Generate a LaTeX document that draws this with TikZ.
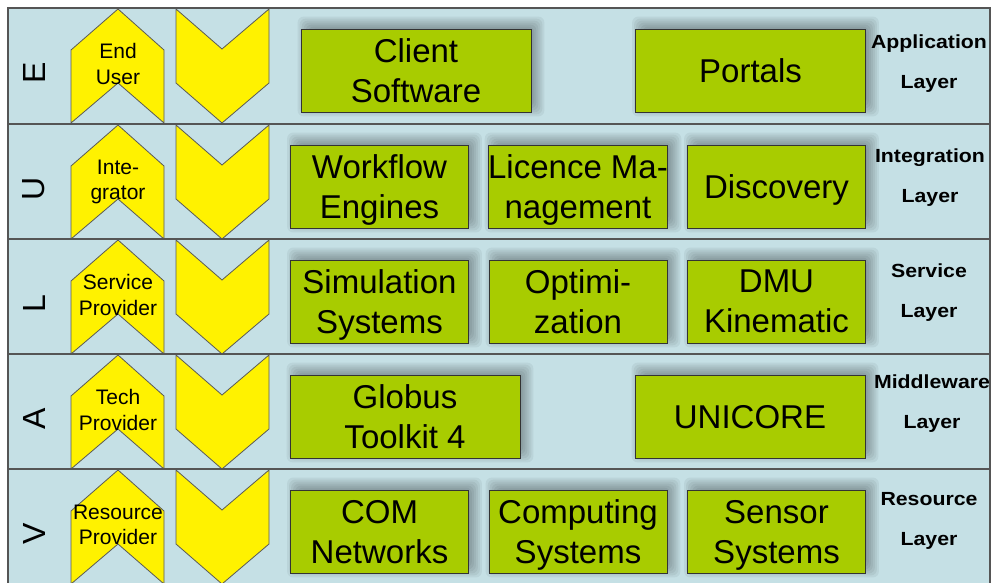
\documentclass[tikz,border=0pt]{standalone}
\usepackage{fontspec}
\setmainfont{Liberation Sans}
\definecolor{bgblue}{RGB}{197,224,229}
\definecolor{boxgreen}{RGB}{168,204,0}
\definecolor{framegray}{RGB}{85,85,85}
\pgfdeclarelayer{bglayer}
\pgfdeclarelayer{shadowlayer}
\pgfsetlayers{bglayer,shadowlayer,main}
\tikzset{
  greenbox/.style={draw=black!80, line width=0.8pt, fill=boxgreen, minimum width=178pt, minimum height=83pt, inner sep=0pt, align=center, text depth=0pt, font=\fontsize{33}{40}\selectfont},
  widebox/.style={greenbox, minimum width=230pt},
  shadowstep/.style={fill=black, opacity=0.05, rounded corners=6pt},
  chev/.style={draw=black!65, line width=0.8pt, fill=yellow},
  chevtext/.style={align=center, text depth=0pt, font=\fontsize{21}{25.5}\selectfont, inner sep=0pt},
  layertext/.style={align=center, font=\bfseries\fontsize{19}{40}\selectfont, xscale=1.12, transform shape, inner sep=0pt},
  rowletter/.style={rotate=90, font=\fontsize{32}{32}\selectfont, inner sep=0pt},
  divider/.style={draw=framegray, line width=1.3pt},
}
\begin{document}
\begin{tikzpicture}[x=1pt,y=1pt]
\useasboundingbox (0,0) rectangle (993,582);
\clip (0,0) rectangle (993,582);
\begin{pgfonlayer}{bglayer}
\fill[white] (0,0) rectangle (993,582);
\fill[bgblue] (8,-5) rectangle (990,574);
\end{pgfonlayer}
% chevrons
\foreach \Y in {574,458,343,228,113} {
  \draw[chev] (71,{\Y-42}) -- (118,{\Y-1}) -- (164,{\Y-42}) -- (164,{\Y-115}) -- (118,{\Y-75}) -- (71,{\Y-115}) -- cycle;
  \draw[chev] (176,{\Y-1}) -- (222,{\Y-41}) -- (269,{\Y-1}) -- (269,{\Y-75}) -- (222,{\Y-115}) -- (176,{\Y-75}) -- cycle;
}
% dividers and frame
\foreach \Y in {458,343,228,113} { \draw[divider] (8,\Y) -- (990,\Y); }
\draw[divider] (8,-5) -- (8,574) -- (990,574) -- (990,-5);
% row letters
\node[rowletter] (lE) at (34,509.5) {E};
\node[rowletter] (lU) at (34,393.5) {U};
\node[rowletter] (lL) at (34,278.5) {L};
\node[rowletter] (lA) at (34,163.5) {A};
\node[rowletter] (lV) at (34,48.5) {V};
% chevron labels
\node[chevtext] (c1) at (118,518) {End\\User};
\node[chevtext] (c2) at (118,402) {Inte-\\grator};
\node[chevtext] (c3) at (118,287) {Service\\Provider};
\node[chevtext] (c4) at (118,172) {Tech\\Provider};
\node[chevtext] (c5) at (118,57) {Resource\\Provider};
% green boxes
\node[widebox] (client) at (416,511.5) {Client\\Software};
\node[widebox] (portals) at (750.5,511.5) {Portals};
\node[greenbox] (workflow) at (379.5,395.5) {Workflow\\Engines};
\node[greenbox] (licence) at (578,395.5) {Licence Ma-\\nagement};
\node[greenbox] (discovery) at (776.5,395.5) {Discovery};
\node[greenbox] (simulation) at (379.5,280.5) {Simulation\\Systems};
\node[greenbox] (optim) at (578,280.5) {Optimi-\\zation};
\node[greenbox] (dmu) at (776.5,280.5) {DMU\\Kinematic};
\node[widebox] (globus) at (405,165.5) {Globus\\Toolkit 4};
\node[widebox] (unicore) at (750,165.5) {UNICORE};
\node[greenbox] (com) at (379.5,50.5) {COM\\Networks};
\node[greenbox] (computing) at (578,50.5) {Computing\\Systems};
\node[greenbox] (sensor) at (776.5,50.5) {Sensor\\Systems};
% soft shadows behind the boxes
\begin{pgfonlayer}{shadowlayer}
\foreach \n in {client,portals,workflow,licence,discovery,simulation,optim,dmu,globus,unicore,com,computing,sensor} {
  \foreach \r in {-8,-6,...,8} {
    \fill[shadowstep] ([shift={({5-\r},{4-\r})}]\n.south west) rectangle ([shift={({5+\r},{4+\r})}]\n.north east);
  }
}
\end{pgfonlayer}
% layer labels
\node[layertext] (app) at (929,518) {Application\\Layer};
\node[layertext] (integ) at (930,404) {Integration\\Layer};
\node[layertext] (serv) at (929,289) {Service\\Layer};
\node[layertext] (middle) at (932,178.5) {Middleware\\Layer};
\node[layertext] (res) at (929,61) {Resource\\Layer};
\end{tikzpicture}
\end{document}
